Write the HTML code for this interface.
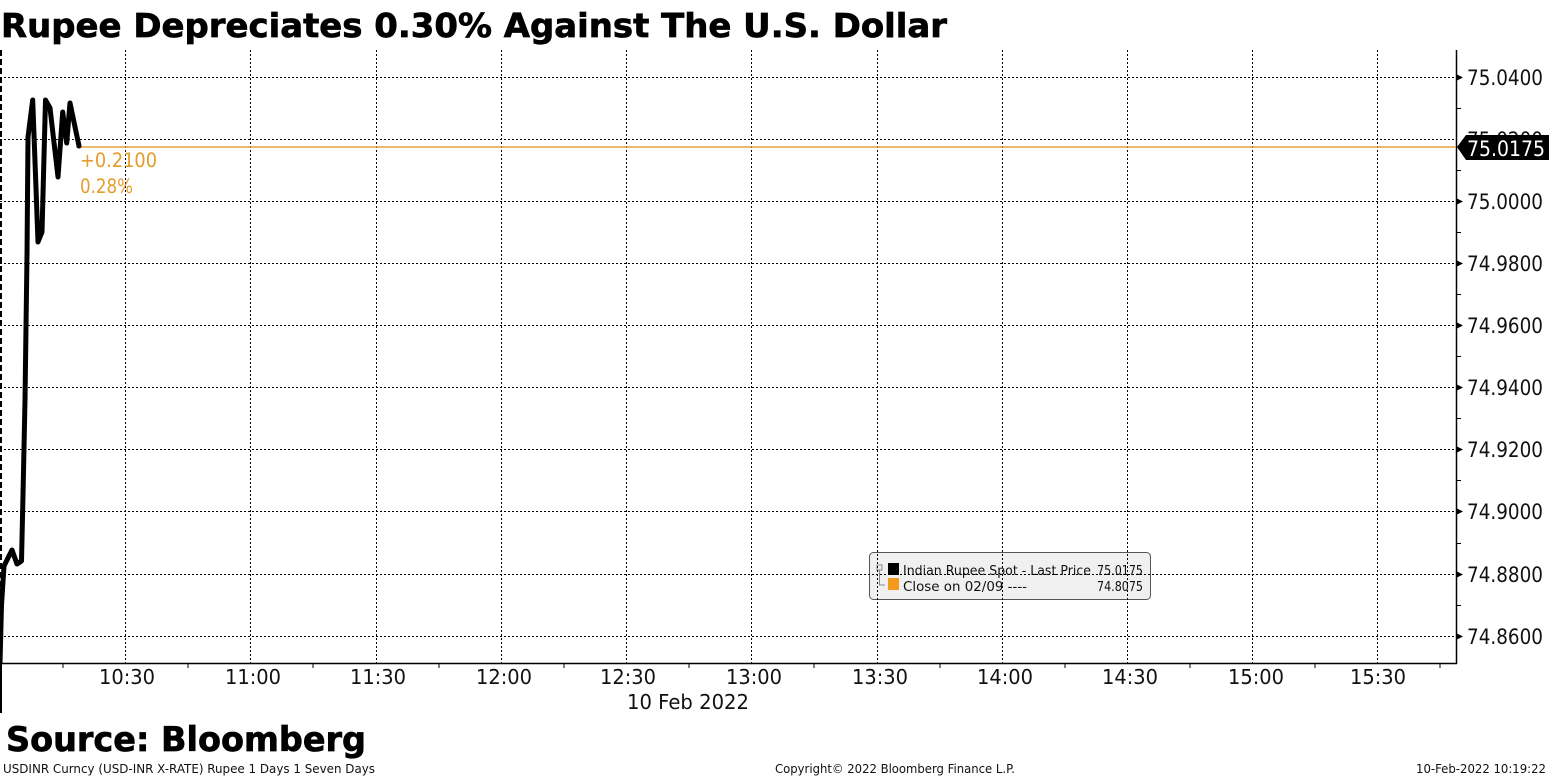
<!DOCTYPE html>
<html><head><meta charset="utf-8"><style>
html,body{margin:0;padding:0;background:#fff;}
svg{display:block;}
text{font-family:"DejaVu Sans","Liberation Sans",sans-serif;}
</style></head><body>
<svg width="1549" height="777" viewBox="0 0 1549 777" xmlns="http://www.w3.org/2000/svg">
<rect width="1549" height="777" fill="#fff"/>
<!-- title -->
<text x="1" y="37" font-size="33" font-weight="bold" fill="#000" stroke="#000" stroke-width="0.7" textLength="946" lengthAdjust="spacingAndGlyphs">Rupee Depreciates 0.30% Against The U.S. Dollar</text>

<!-- legend (drawn under gridlines) -->
<rect x="869.5" y="552.5" width="281" height="47" rx="4" ry="4" fill="#f0f0f0" stroke="#555" stroke-width="1"/>
<rect x="877" y="565" width="5" height="5" fill="none" stroke="#888" stroke-width="1"/>
<path d="M879.5 570 V585 H885" fill="none" stroke="#888" stroke-width="1"/>
<rect x="888" y="563" width="11" height="12" fill="#000"/>
<rect x="888" y="578" width="11" height="12" fill="#f39a1e"/>
<text x="903" y="575" font-size="13.5" fill="#111" textLength="188" lengthAdjust="spacingAndGlyphs">Indian Rupee Spot - Last Price</text>
<text x="1143" y="575" font-size="13.5" fill="#111" text-anchor="end" textLength="46" lengthAdjust="spacingAndGlyphs">75.0175</text>
<text x="903" y="591" font-size="13.5" fill="#111" textLength="124" lengthAdjust="spacingAndGlyphs">Close on 02/09 ----</text>
<text x="1143" y="591" font-size="13.5" fill="#111" text-anchor="end" textLength="46" lengthAdjust="spacingAndGlyphs">74.8075</text>

<!-- horizontal gridlines -->
<g stroke="#000" stroke-width="1" stroke-dasharray="2 2">
<line x1="0" x2="1456" y1="77.5" y2="77.5"/>
<line x1="0" x2="1456" y1="139.5" y2="139.5"/>
<line x1="0" x2="1456" y1="201.5" y2="201.5"/>
<line x1="0" x2="1456" y1="263.5" y2="263.5"/>
<line x1="0" x2="1456" y1="325.5" y2="325.5"/>
<line x1="0" x2="1456" y1="387.5" y2="387.5"/>
<line x1="0" x2="1456" y1="449.5" y2="449.5"/>
<line x1="0" x2="1456" y1="511.5" y2="511.5"/>
<line x1="0" x2="1456" y1="574.5" y2="574.5"/>
<line x1="0" x2="1456" y1="636.5" y2="636.5"/>
</g>
<!-- vertical gridlines -->
<g stroke="#000" stroke-width="1" stroke-dasharray="2 2">
<line x1="125.5" x2="125.5" y1="50" y2="663"/>
<line x1="250.5" x2="250.5" y1="50" y2="663"/>
<line x1="376.5" x2="376.5" y1="50" y2="663"/>
<line x1="501.5" x2="501.5" y1="50" y2="663"/>
<line x1="626.5" x2="626.5" y1="50" y2="663"/>
<line x1="751.5" x2="751.5" y1="50" y2="663"/>
<line x1="877.5" x2="877.5" y1="50" y2="663"/>
<line x1="1002.5" x2="1002.5" y1="50" y2="663"/>
<line x1="1127.5" x2="1127.5" y1="50" y2="663"/>
<line x1="1252.5" x2="1252.5" y1="50" y2="663"/>
<line x1="1377.5" x2="1377.5" y1="50" y2="663"/>
</g>
<!-- left day separator -->
<line x1="1" x2="1" y1="50" y2="663" stroke="#000" stroke-width="2" stroke-dasharray="6 3"/>
<line x1="1" x2="1" y1="663" y2="713" stroke="#000" stroke-width="2"/>

<!-- axes -->
<line x1="0" x2="1457" y1="663.5" y2="663.5" stroke="#000" stroke-width="1.5"/>
<line x1="1456.5" x2="1456.5" y1="50" y2="664" stroke="#000" stroke-width="1.5"/>
<!-- x minor ticks -->
<g stroke="#000" stroke-width="1">
<line x1="63" x2="63" y1="663" y2="668"/>
<line x1="188" x2="188" y1="663" y2="668"/>
<line x1="313" x2="313" y1="663" y2="668"/>
<line x1="439" x2="439" y1="663" y2="668"/>
<line x1="564" x2="564" y1="663" y2="668"/>
<line x1="689" x2="689" y1="663" y2="668"/>
<line x1="814" x2="814" y1="663" y2="668"/>
<line x1="940" x2="940" y1="663" y2="668"/>
<line x1="1065" x2="1065" y1="663" y2="668"/>
<line x1="1190" x2="1190" y1="663" y2="668"/>
<line x1="1315" x2="1315" y1="663" y2="668"/>
<line x1="1440" x2="1440" y1="663" y2="668"/>
</g>
<!-- y minor ticks -->
<g stroke="#000" stroke-width="1">
<line x1="1456" x2="1461" y1="108.5" y2="108.5"/>
<line x1="1456" x2="1461" y1="170.5" y2="170.5"/>
<line x1="1456" x2="1461" y1="232.5" y2="232.5"/>
<line x1="1456" x2="1461" y1="294.5" y2="294.5"/>
<line x1="1456" x2="1461" y1="356.5" y2="356.5"/>
<line x1="1456" x2="1461" y1="418.5" y2="418.5"/>
<line x1="1456" x2="1461" y1="480.5" y2="480.5"/>
<line x1="1456" x2="1461" y1="543.5" y2="543.5"/>
<line x1="1456" x2="1461" y1="605.5" y2="605.5"/>
</g>
<!-- y major markers -->
<g fill="#000">
<path d="M1457 74.5 L1463 77.5 L1457 80.5Z"/>
<path d="M1457 198.5 L1463 201.5 L1457 204.5Z"/>
<path d="M1457 260.5 L1463 263.5 L1457 266.5Z"/>
<path d="M1457 322.5 L1463 325.5 L1457 328.5Z"/>
<path d="M1457 384.5 L1463 387.5 L1457 390.5Z"/>
<path d="M1457 446.5 L1463 449.5 L1457 452.5Z"/>
<path d="M1457 508.5 L1463 511.5 L1457 514.5Z"/>
<path d="M1457 571.5 L1463 574.5 L1457 577.5Z"/>
<path d="M1457 633.5 L1463 636.5 L1457 639.5Z"/>
</g>
<!-- y labels -->
<g font-size="21.5" fill="#111">
<text x="1467" y="85" textLength="76" lengthAdjust="spacingAndGlyphs">75.0400</text>
<text x="1467" y="147" textLength="76" lengthAdjust="spacingAndGlyphs">75.0200</text>
<text x="1467" y="209" textLength="76" lengthAdjust="spacingAndGlyphs">75.0000</text>
<text x="1467" y="271" textLength="76" lengthAdjust="spacingAndGlyphs">74.9800</text>
<text x="1467" y="333" textLength="76" lengthAdjust="spacingAndGlyphs">74.9600</text>
<text x="1467" y="395" textLength="76" lengthAdjust="spacingAndGlyphs">74.9400</text>
<text x="1467" y="457" textLength="76" lengthAdjust="spacingAndGlyphs">74.9200</text>
<text x="1467" y="519" textLength="76" lengthAdjust="spacingAndGlyphs">74.9000</text>
<text x="1467" y="582" textLength="76" lengthAdjust="spacingAndGlyphs">74.8800</text>
<text x="1467" y="644" textLength="76" lengthAdjust="spacingAndGlyphs">74.8600</text>
</g>
<!-- x labels -->
<g font-size="20.5" fill="#111" text-anchor="middle">
<text x="127" y="684" textLength="56" lengthAdjust="spacingAndGlyphs">10:30</text>
<text x="253" y="684" textLength="56" lengthAdjust="spacingAndGlyphs">11:00</text>
<text x="378" y="684" textLength="56" lengthAdjust="spacingAndGlyphs">11:30</text>
<text x="504" y="684" textLength="56" lengthAdjust="spacingAndGlyphs">12:00</text>
<text x="628" y="684" textLength="56" lengthAdjust="spacingAndGlyphs">12:30</text>
<text x="754" y="684" textLength="56" lengthAdjust="spacingAndGlyphs">13:00</text>
<text x="880" y="684" textLength="56" lengthAdjust="spacingAndGlyphs">13:30</text>
<text x="1005" y="684" textLength="56" lengthAdjust="spacingAndGlyphs">14:00</text>
<text x="1130" y="684" textLength="56" lengthAdjust="spacingAndGlyphs">14:30</text>
<text x="1256" y="684" textLength="56" lengthAdjust="spacingAndGlyphs">15:00</text>
<text x="1378" y="684" textLength="56" lengthAdjust="spacingAndGlyphs">15:30</text>
<text x="688" y="709" textLength="122" lengthAdjust="spacingAndGlyphs">10 Feb 2022</text>
</g>

<!-- orange close line -->
<line x1="76" x2="1456" y1="147" y2="147" stroke="#e3a33f" stroke-width="1.5"/>
<text x="80" y="167" font-size="19.5" fill="#e59c2c" textLength="77" lengthAdjust="spacingAndGlyphs">+0.2100</text>
<text x="80" y="193" font-size="19.5" fill="#e59c2c" textLength="53" lengthAdjust="spacingAndGlyphs">0.28%</text>

<!-- price series -->
<polyline fill="none" stroke="#000" stroke-width="5" stroke-linejoin="round" stroke-linecap="round"
 points="0,663 1.5,605 4,566 12,550 17,564 21.5,561 23,495 25,400 27,255 28,137 32.7,100 38,242 42,232 45.5,100 50,108 58,177 62.7,112 66.7,143 70,103 79,146"/>

<!-- last price tag -->
<path d="M1457 147 L1466 135 L1549 135 L1549 160 L1466 160 Z" fill="#000"/>
<text x="1467" y="156" font-size="21.5" fill="#fff" textLength="78" lengthAdjust="spacingAndGlyphs">75.0175</text>

<!-- footer -->
<text x="6" y="751" font-size="34" font-weight="bold" fill="#000" stroke="#000" stroke-width="0.7" textLength="360" lengthAdjust="spacingAndGlyphs">Source: Bloomberg</text>
<text x="3" y="773" font-size="12" fill="#111" textLength="372" lengthAdjust="spacingAndGlyphs">USDINR Curncy (USD-INR X-RATE) Rupee 1 Days 1 Seven Days</text>
<text x="775" y="773" font-size="12" fill="#111" textLength="240" lengthAdjust="spacingAndGlyphs">Copyright© 2022 Bloomberg Finance L.P.</text>
<text x="1416" y="773" font-size="12" fill="#111" textLength="130" lengthAdjust="spacingAndGlyphs">10-Feb-2022 10:19:22</text>
</svg>
</body></html>
